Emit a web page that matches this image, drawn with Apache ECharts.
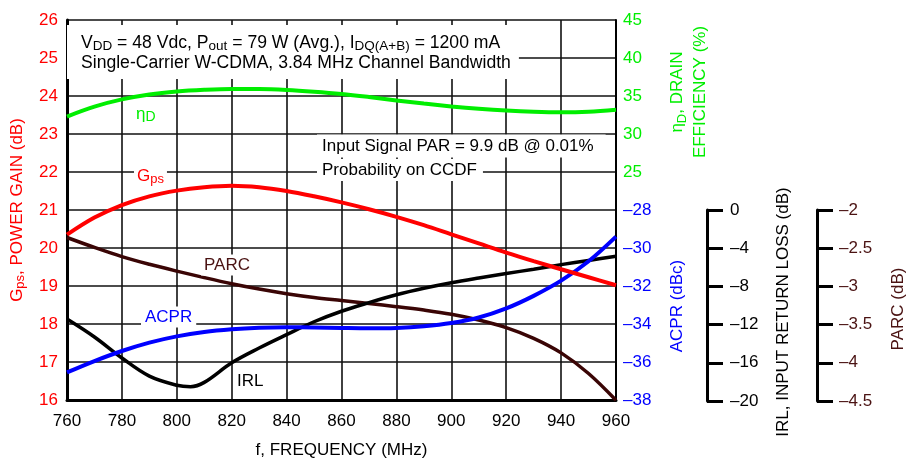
<!DOCTYPE html>
<html>
<head>
<meta charset="utf-8">
<script src="https://cdn.jsdelivr.net/npm/echarts@6/dist/echarts.min.js"></script>
<style>
  html, body { margin: 0; padding: 0; background: #fff; }
  #chart { width: 908px; height: 464px; }
</style>
</head>
<body>
<div id="chart"></div>
<script>
// Frequency sweep (MHz)
const freq = [760, 770, 780, 790, 800, 810, 820, 830, 840, 850, 860,
              870, 880, 890, 900, 910, 920, 930, 940, 950, 960];

// Power gain Gps (dB)
const gainDb = [20.35, 20.8, 21.13, 21.36, 21.51, 21.6, 21.64, 21.6, 21.5, 21.36, 21.2,
                21.02, 20.82, 20.6, 20.36, 20.12, 19.88, 19.655, 19.44, 19.23, 19.02];

// Drain efficiency (%)
const drainEff = [32.3, 33.6, 34.55, 35.2, 35.6, 35.82, 35.93, 35.92, 35.8, 35.57, 35.27,
                  34.87, 34.42, 34.0, 33.63, 33.32, 33.08, 32.92, 32.85, 32.93, 33.2];

// Adjacent channel power ratio (dBc)
const acprDbc = [-36.55, -35.95, -35.42, -34.98, -34.65, -34.42, -34.28, -34.2, -34.17, -34.18, -34.21,
                 -34.23, -34.21, -34.12, -33.95, -33.66, -33.18, -32.52, -31.72, -30.7, -29.4];

// Input return loss (dB), sampled a little denser near the dip
const irlFreq = [760, 770, 780, 790, 800, 805, 810, 820, 830, 840, 850, 860,
                 870, 880, 890, 900, 910, 920, 930, 940, 950, 960];
const irlDb = [-11.42, -13.3, -15.5, -17.4, -18.35, -18.5, -18.05, -16.0, -14.45, -13.05, -11.7, -10.6,
               -9.7, -8.88, -8.2, -7.62, -7.12, -6.65, -6.2, -5.72, -5.28, -4.85];

// Peak-to-average ratio compression (dB)
const parcDb = [-2.36, -2.49, -2.61, -2.71, -2.8, -2.885, -2.965, -3.035, -3.095, -3.145, -3.185,
                -3.225, -3.265, -3.31, -3.365, -3.44, -3.54, -3.68, -3.87, -4.14, -4.49];

// Axis tick settings
const freqTicks = { min: 760, max: 960, step: 20 };
const gainTicks = { min: 16, max: 26, step: 1 };
const effTicks = { min: -5, max: 45, step: 5, shownFrom: 25 };
const acprTicks = { min: -38, max: -18, step: 2, shownTo: -28 };
const irlTicks = { min: -20, max: 0, step: 4 };
const parcTicks = { min: -4.5, max: -2, step: 0.5 };

const FONT = 'Liberation Sans, Arial, sans-serif';
const RED = '#ff0000', GREEN = '#00ee00', BLUE = '#0000ff', BROWN = '#3a0505', BROWN_TXT = '#4a1212';

const dash = v => String(v).replace('-', '\u2013');
const pairs = (xs, ys) => xs.map((x, i) => [x, ys[i]]);

// Rich styles for subscripted text: axis names take `color`, graphic text takes `fill`
const axisRich = (color, big, small) => ({
  n: { fontSize: big, lineHeight: 20, color: color, fontFamily: FONT },
  s: { fontSize: small, lineHeight: 10, verticalAlign: 'bottom', color: color, fontFamily: FONT }
});
const gfxRich = (color, big, small, lh) => ({
  n: { fontSize: big, lineHeight: lh || 20, fill: color, fontFamily: FONT },
  s: { fontSize: small, lineHeight: 10, verticalAlign: 'bottom', fill: color, fontFamily: FONT }
});

const chart = echarts.init(document.getElementById('chart'), null, { renderer: 'canvas' });

const lineSeries = (name, data, color, xIdx, yIdx, width) => ({
  name, type: 'line', data, xAxisIndex: xIdx, yAxisIndex: yIdx,
  smooth: 0.35, showSymbol: false, symbol: 'none', animation: false,
  lineStyle: { color, width }, z: 5
});

const textEl = (x, y, text, opts, extra) => Object.assign({
  type: 'text', x, y, z: 10,
  style: Object.assign({ text, font: '17px ' + FONT, fill: '#000', align: 'left', verticalAlign: 'middle' }, opts || {})
}, extra || {});

const UP = { rotation: Math.PI / 2 };

chart.setOption({
  animation: false,
  backgroundColor: '#fff',
  grid: [
    { left: 67, right: 292, top: 20, bottom: 63 },
    { left: 67, right: 292, top: 210, bottom: 63 }
  ],
  xAxis: [
    {
      type: 'value', gridIndex: 0,
      min: freqTicks.min, max: freqTicks.max, interval: freqTicks.step,
      name: 'f, FREQUENCY (MHz)', nameLocation: 'middle', nameGap: 42,
      nameTextStyle: { fontSize: 17, fontFamily: FONT, color: '#000' },
      axisLine: { show: true, onZero: false, lineStyle: { color: '#000', width: 3 } },
      axisTick: { show: false },
      axisLabel: { fontSize: 17, fontFamily: FONT, color: '#000', margin: 13 },
      splitLine: { show: true, lineStyle: { color: '#111', width: 1.6 } }
    },
    {
      type: 'value', gridIndex: 1, show: false,
      min: freqTicks.min, max: freqTicks.max, interval: freqTicks.step,
      axisLine: { show: false, onZero: false },
      splitLine: { show: false }
    }
  ],
  yAxis: [
    {
      type: 'value', gridIndex: 0, position: 'left',
      min: gainTicks.min, max: gainTicks.max, interval: gainTicks.step,
      name: '{n|G}{s|ps}{n|, POWER GAIN (dB)}', nameLocation: 'middle', nameGap: 40, nameRotate: 90,
      nameTextStyle: { rich: axisRich(RED, 17, 13) },
      axisLine: { show: true, onZero: false, lineStyle: { color: '#000', width: 3 } },
      axisTick: { show: false },
      axisLabel: { fontSize: 17, fontFamily: FONT, color: RED, margin: 9 },
      splitLine: { show: true, lineStyle: { color: '#111', width: 1.6 } }
    },
    {
      type: 'value', gridIndex: 0, position: 'right',
      min: effTicks.min, max: effTicks.max, interval: effTicks.step,
      axisLine: { show: true, onZero: false, lineStyle: { color: '#000', width: 2 } },
      axisTick: { show: false },
      axisLabel: { fontSize: 17, fontFamily: FONT, color: GREEN, margin: 7,
        formatter: v => (v >= effTicks.shownFrom ? dash(v) : '') },
      splitLine: { show: false }
    },
    {
      type: 'value', gridIndex: 0, position: 'right',
      min: acprTicks.min, max: acprTicks.max, interval: acprTicks.step,
      axisLine: { show: false, onZero: false },
      axisTick: { show: false },
      axisLabel: { fontSize: 17, fontFamily: FONT, color: BLUE, margin: 7,
        formatter: v => (v <= acprTicks.shownTo ? dash(v) : '') },
      splitLine: { show: false }
    },
    {
      type: 'value', gridIndex: 1, position: 'right', offset: 91,
      min: irlTicks.min, max: irlTicks.max, interval: irlTicks.step,
      axisLine: { show: true, onZero: false, lineStyle: { color: '#000', width: 3 } },
      axisTick: { show: true, length: 16, lineStyle: { color: '#000', width: 3 } },
      axisLabel: { fontSize: 17, fontFamily: FONT, color: '#000', margin: 23, formatter: v => dash(v) },
      splitLine: { show: false }
    },
    {
      type: 'value', gridIndex: 1, position: 'right', offset: 201,
      min: parcTicks.min, max: parcTicks.max, interval: parcTicks.step,
      axisLine: { show: true, onZero: false, lineStyle: { color: '#000', width: 3 } },
      axisTick: { show: true, length: 16, lineStyle: { color: '#000', width: 3 } },
      axisLabel: { fontSize: 17, fontFamily: FONT, color: BROWN_TXT, margin: 22, formatter: v => dash(v) },
      splitLine: { show: false }
    }
  ],
  series: [
    lineSeries('PARC', pairs(freq, parcDb), BROWN, 1, 4, 3.5),
    lineSeries('IRL', pairs(irlFreq, irlDb), '#000', 1, 3, 3.5),
    lineSeries('ACPR', pairs(freq, acprDbc), BLUE, 0, 2, 4),
    lineSeries('Gps', pairs(freq, gainDb), RED, 0, 0, 4),
    lineSeries('Drain Efficiency', pairs(freq, drainEff), GREEN, 0, 1, 4)
  ],
  graphic: [
    // Test-condition notes
    textEl(67, 25, '{n|V}{s|DD}{n| = 48 Vdc, P}{s|out}{n| = 79 W (Avg.), I}{s|DQ(A+B)}{n| = 1200 mA}\n{n|Single-Carrier W-CDMA, 3.84 MHz Channel Bandwidth}', {
      rich: gfxRich('#000', 17.6, 13.5), verticalAlign: 'top',
      backgroundColor: '#fff', padding: [8, 8, 6, 14]
    }),
    textEl(317, 146, 'Input Signal PAR = 9.9 dB @ 0.01%', { backgroundColor: '#fff', padding: [3, 12, 3, 5] }),
    textEl(317, 170, 'Probability on CCDF', { backgroundColor: '#fff', padding: [2, 6, 3, 5] }),
    // Curve labels
    textEl(136, 114, '{n|\u03b7}{s|D}', { rich: gfxRich(GREEN, 17, 14) }),
    textEl(134, 176, '{n|G}{s|ps}', { rich: gfxRich(RED, 17, 13), backgroundColor: '#fff', padding: [1, 3, 1, 3] }),
    textEl(201, 265, 'PARC', { fill: BROWN_TXT, backgroundColor: '#fff', padding: [2, 3, 2, 3] }),
    textEl(141, 317, 'ACPR', { fill: BLUE, backgroundColor: '#fff', padding: [2, 4, 2, 4] }),
    textEl(235, 381, 'IRL', { fill: '#000', backgroundColor: '#fff', padding: [1, 2, 1, 2] }),
    // Right-hand axis titles
    textEl(689, 92, '{n|\u03b7}{s|D}{n|, DRAIN}\n{n|EFFICIENCY (%)}',
      { rich: gfxRich(GREEN, 17, 13, 23), align: 'center' }, UP),
    textEl(677, 306, 'ACPR (dBc)', { fill: BLUE, align: 'center' }, UP),
    textEl(783, 312, 'IRL, INPUT RETURN LOSS (dB)', { fill: '#000', align: 'center' }, UP),
    textEl(898, 309, 'PARC (dB)', { fill: BROWN_TXT, align: 'center' }, UP)
  ]
});
</script>
</body>
</html>
